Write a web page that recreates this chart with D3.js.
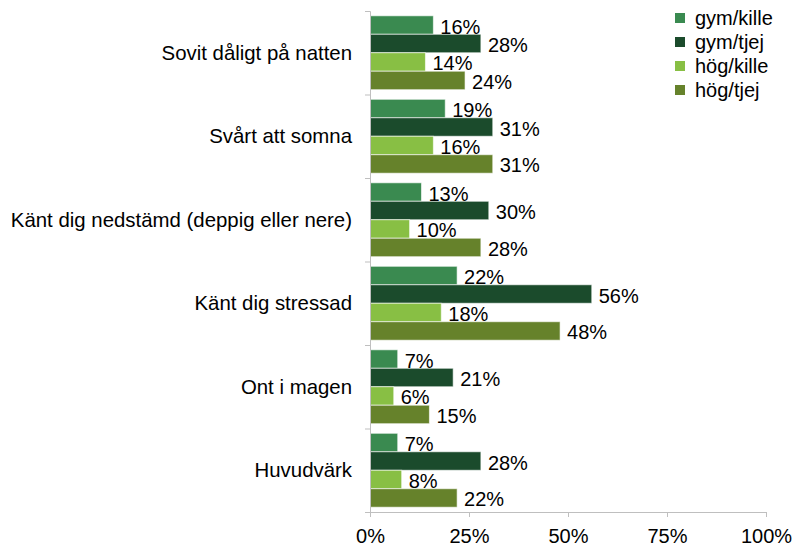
<!DOCTYPE html>
<html>
<head>
<meta charset="utf-8">
<script src="https://cdn.jsdelivr.net/npm/d3@7"></script>
<style>
  body { margin: 0; background: #fff; }
  svg { font-family: "Liberation Sans", Arial, sans-serif; }
  .axis path, .axis line { stroke: #bfbfbf; }
  .axis text { fill: #000; font-size: 20px; }
</style>
</head>
<body>
<div id="chart"></div>
<script>
// categories, top to bottom
var categories = ["Sovit dåligt på natten", "Svårt att somna", "Känt dig nedstämd (deppig eller nere)",
    "Känt dig stressad", "Ont i magen", "Huvudvärk"];
var seriesNames = ["gym/kille", "gym/tjej", "hög/kille", "hög/tjej"];
var gymKille = [16, 19, 13, 22, 7, 7];
var gymTjej  = [28, 31, 30, 56, 21, 28];
var hogKille = [14, 16, 10, 18, 6, 8];
var hogTjej  = [24, 31, 28, 48, 15, 22];
var xTicks = [0, 25, 50, 75, 100];

var colors = ["#3a8a50", "#1b4b2c", "#88bf44", "#66822b"];
var seriesValues = [gymKille, gymTjej, hogKille, hogTjej];

var W = 792, H = 548;
var plot = {left: 370, right: 766, top: 11, bottom: 512};

var svg = d3.select("#chart").append("svg")
    .attr("width", W)
    .attr("height", H);

var x = d3.scaleLinear()
    .domain([0, 100])
    .range([plot.left, plot.right]);

var y = d3.scaleBand()
    .domain(categories)
    .range([plot.top, plot.bottom])
    .paddingInner(0)
    .paddingOuter(0);

var ySub = d3.scaleBand()
    .domain(seriesNames)
    .range([0, y.bandwidth()])
    .paddingInner(0)
    .paddingOuter(0.26);

// edges scale, used for the category tick marks
var yEdge = d3.scaleLinear()
    .domain([0, categories.length])
    .range([plot.top, plot.bottom]);

// flatten rows for drawing
var rows = [];
categories.forEach(function(c, i) {
    seriesNames.forEach(function(s, j) {
        rows.push({cat: c, series: s, value: seriesValues[j][i], color: colors[j]});
    });
});

svg.append("g")
    .selectAll("rect")
    .data(rows)
    .enter()
    .append("rect")
    .attr("x", x(0))
    .attr("y", function(d) { return y(d.cat) + ySub(d.series); })
    .attr("width", function(d) { return x(d.value) - x(0); })
    .attr("height", ySub.bandwidth())
    .attr("fill", function(d) { return d.color; })
    .attr("stroke", "rgba(255,255,255,0.6)")
    .attr("stroke-width", 1);

// value labels
svg.append("g")
    .selectAll("text")
    .data(rows)
    .enter()
    .append("text")
    .attr("x", function(d) { return x(d.value) + 7; })
    .attr("y", function(d) { return y(d.cat) + ySub(d.series) + ySub.bandwidth() / 2 + 1.5; })
    .attr("dy", "0.35em")
    .attr("font-size", 20)
    .attr("fill", "#000")
    .text(function(d) { return d.value + "%"; });

// axes
svg.append("g")
    .attr("class", "axis")
    .attr("transform", "translate(" + plot.left + ",0)")
    .call(d3.axisLeft(yEdge)
        .tickValues(d3.range(categories.length + 1))
        .tickFormat("")
        .tickSizeOuter(0)
        .tickSize(5));

svg.append("g")
    .attr("class", "axis")
    .attr("transform", "translate(0," + plot.bottom + ")")
    .call(d3.axisBottom(x)
        .tickValues(xTicks)
        .tickFormat(function(d) { return d + "%"; })
        .tickSizeOuter(0)
        .tickSize(5)
        .tickPadding(12));

// category labels
svg.append("g")
    .selectAll("text")
    .data(categories)
    .enter()
    .append("text")
    .attr("x", plot.left - 18)
    .attr("y", function(d) { return y(d) + y.bandwidth() / 2; })
    .attr("dy", "0.35em")
    .attr("text-anchor", "end")
    .attr("font-size", 20.4)
    .attr("fill", "#000")
    .text(function(d) { return d; });

// legend
var legend = svg.append("g")
    .attr("transform", "translate(675,18)");

legend.selectAll("rect")
    .data(seriesNames)
    .enter()
    .append("rect")
    .attr("x", 0)
    .attr("y", function(d, i) { return 24 * i - 5; })
    .attr("width", 10)
    .attr("height", 10)
    .attr("fill", function(d, i) { return colors[i]; });

legend.selectAll("text")
    .data(seriesNames)
    .enter()
    .append("text")
    .attr("x", 20)
    .attr("y", function(d, i) { return 24 * i; })
    .attr("dy", "0.35em")
    .attr("font-size", 20)
    .attr("fill", "#000")
    .text(function(d) { return d; });
</script>
</body>
</html>
